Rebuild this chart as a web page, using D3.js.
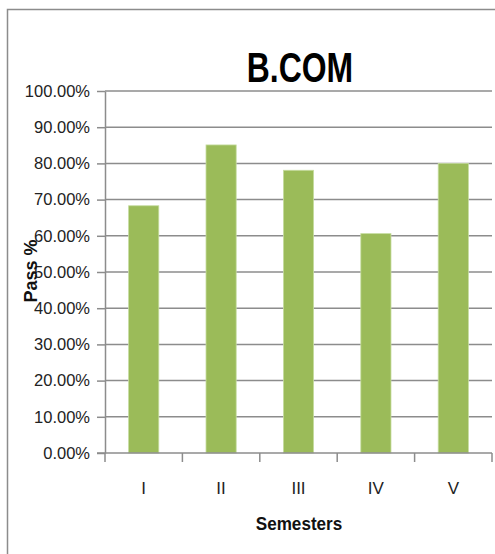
<!DOCTYPE html>
<html>
<head>
<meta charset="utf-8">
<script src="https://cdn.jsdelivr.net/npm/d3@7"></script>
<style>
  body { margin: 0; background: #fff; }
  text { font-family: "Liberation Sans", Arial, sans-serif; }
</style>
</head>
<body>
<div id="chart"></div>
<script>
// data
var semesters = ["I", "II", "III", "IV", "V"]
var passPct = [0.683, 0.851, 0.781, 0.606, 0.800]
var yTicks = [0, 0.1, 0.2, 0.3, 0.4, 0.5, 0.6, 0.7, 0.8, 0.9, 1.0]

var width = 495, height = 554
var margin = {left: 105, right: 3, top: 91, bottom: 101}

let svg = d3.select("#chart")
  .append("svg")
  .attr("width", width)
  .attr("height", height)

// chart frame
svg.append("rect")
  .attr("x", 7.5).attr("y", 9.5)
  .attr("width", 520).attr("height", 560)
  .attr("fill", "none")
  .attr("stroke", "#8c8c8c")
  .attr("stroke-width", 1.5)

var x = d3.scaleBand()
  .domain(semesters)
  .range([margin.left, width - margin.right])
  .paddingInner(0.61)
  .paddingOuter(0.305)

var y = d3.scaleLinear()
  .domain([0, 1])
  .range([height - margin.bottom, margin.top])

// gridlines + y axis
let yAxis = svg.append("g")
  .attr("transform", `translate(${margin.left},0)`)
  .call(d3.axisLeft(y)
    .tickValues(yTicks)
    .tickFormat(d3.format(".2%"))
    .tickSize(8)
    .tickSizeOuter(0)
    .tickPadding(7))

yAxis.select(".domain").attr("stroke", "#8c8c8c").attr("stroke-width", 1.5)
yAxis.selectAll(".tick line").attr("stroke", "#8c8c8c").attr("stroke-width", 1.5)
yAxis.selectAll(".tick text")
  .attr("font-size", 16.5)
  .attr("fill", "#222")
  .style("font-family", "'Liberation Sans', Arial, sans-serif")

svg.append("g")
  .selectAll("line")
  .data(yTicks.filter(d => d > 0))
  .enter()
  .append("line")
  .attr("x1", margin.left)
  .attr("x2", width - margin.right)
  .attr("y1", d => y(d))
  .attr("y2", d => y(d))
  .attr("stroke", "#8c8c8c")
  .attr("stroke-width", 1.5)

// bars
svg.append("g")
  .selectAll("rect")
  .data(semesters)
  .enter()
  .append("rect")
  .attr("x", d => x(d))
  .attr("width", x.bandwidth())
  .attr("y", (d, i) => y(passPct[i]))
  .attr("height", (d, i) => y(0) - y(passPct[i]))
  .attr("fill", "#9bbb59")
  .attr("stroke", "#c6dca0")
  .attr("stroke-width", 0.8)

// x axis with ticks between categories
let xAxis = svg.append("g")
  .attr("transform", `translate(0,${height - margin.bottom})`)

xAxis.append("line")
  .attr("x1", margin.left - 8)
  .attr("x2", width - margin.right)
  .attr("stroke", "#8c8c8c")
  .attr("stroke-width", 1.5)

var step = x.step()
var bounds = d3.range(semesters.length + 1).map(i => margin.left + i * step)
xAxis.selectAll(".xt")
  .data(bounds)
  .enter()
  .append("line")
  .attr("x1", d => d).attr("x2", d => d)
  .attr("y1", 0).attr("y2", 9)
  .attr("stroke", "#8c8c8c")
  .attr("stroke-width", 1.5)

xAxis.selectAll(".xl")
  .data(semesters)
  .enter()
  .append("text")
  .attr("x", d => x(d) + x.bandwidth() / 2)
  .attr("y", 41)
  .attr("text-anchor", "middle")
  .attr("font-size", 17)
  .attr("fill", "#222")
  .text(d => d)

// titles (squeezed a bit to get the narrow look of the original)
svg.append("text")
  .attr("transform", "translate(300,82) scale(0.76,1)")
  .attr("text-anchor", "middle")
  .attr("font-size", 42)
  .attr("font-weight", "bold")
  .attr("fill", "#000")
  .text("B.COM")

svg.append("text")
  .attr("transform", "translate(299,530) scale(0.9,1)")
  .attr("text-anchor", "middle")
  .attr("font-size", 19)
  .attr("font-weight", "bold")
  .attr("fill", "#111")
  .text("Semesters")

svg.append("text")
  .attr("transform", "translate(37,271) rotate(-90)")
  .attr("text-anchor", "middle")
  .attr("font-size", 18)
  .attr("font-weight", "bold")
  .attr("fill", "#111")
  .text("Pass %")
</script>
</body>
</html>
